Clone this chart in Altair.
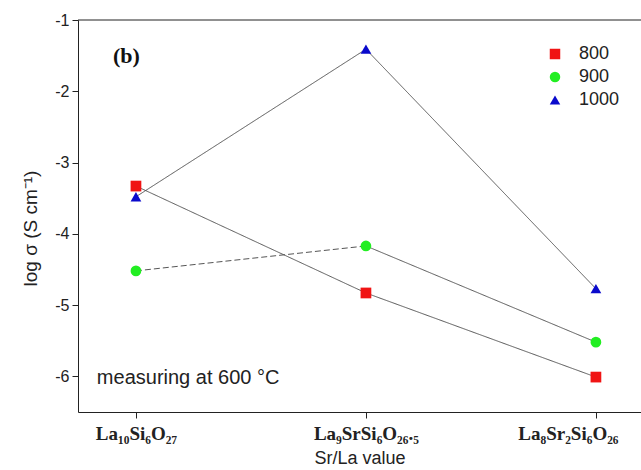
import json
import altair as alt
import pandas as pd

# ---- data ----
compounds = ["La₁₀Si₆O₂₇", "La₉SrSi₆O₂₆.₅", "La₈Sr₂Si₆O₂₆"]
positions = [0, 1, 2]
series_names = ["800", "900", "1000"]
v800 = [-3.33, -4.83, -6.01]
v900 = [-4.52, -4.17, -5.52]
v1000 = [-3.48, -1.41, -4.77]
panel_label = ["(b)"]
note_text = ["measuring at 600 °C"]

series_values = {"800": v800, "900": v900, "1000": v1000}
colors = ["#f01414", "#22ee22", "#0a0acc"]
shapes = ["square", "circle", "triangle-up"]

rows = []
for s in series_names:
    for p, v in zip(positions, series_values[s]):
        rows.append({"pos": p, "val": v, "series": s})
pts = pd.DataFrame(rows)

seg_rows = []
for s in series_names:
    vals = series_values[s]
    for i in range(len(positions) - 1):
        dashed = "dash" if (s == "900" and i == 0) else "solid"
        for j in (i, i + 1):
            seg_rows.append({"pos": positions[j], "val": vals[j],
                             "seg": f"{s}-{i}", "style": dashed})
segs = pd.DataFrame(seg_rows)

xdom = [-0.252, 2.196]
ydom = [-6.5, -1.0]
xscale = alt.Scale(domain=xdom, nice=False, zero=False)
yscale = alt.Scale(domain=ydom, nice=False, zero=False)

label_map = json.dumps(compounds, ensure_ascii=False)

x_axis = alt.Axis(
    values=positions,
    labelExpr=f"{label_map}[datum.value]",
    labelOffset={"condition": {"test": "datum.value == 2", "value": -28},
                 "value": 0},
    title="Sr/La value",
    titleFont="Liberation Sans", titleFontSize=18, titleFontWeight="normal",
    titleColor="#222", titleY=46, titleBaseline="middle",
    labelFont="Liberation Serif", labelFontSize=19, labelFontWeight="bold",
    labelColor="#222", labelPadding=6,
    tickSize=6, tickColor="#222", domainColor="#222", grid=False,
)
y_axis = alt.Axis(
    values=[-1, -1.5, -2, -2.5, -3, -3.5, -4, -4.5, -5, -5.5, -6],
    labelExpr="datum.value % 1 == 0 ? '-' + (-datum.value) : ''",
    title="log σ (S cm⁻¹)",
    titleFont="Liberation Sans", titleFontSize=19, titleFontWeight="normal",
    titleColor="#222", titleX=-48, titleY=208, titleAngle=270,
    titleAlign="center", titleBaseline="middle",
    labelFont="Liberation Sans", labelFontSize=16, labelColor="#222",
    labelPadding=3, tickSize=6, tickColor="#222", domainColor="#222",
    grid=False,
)

base_x = alt.X("pos:Q", scale=xscale, axis=x_axis)
base_y = alt.Y("val:Q", scale=yscale, axis=y_axis)

lines = alt.Chart(segs).mark_line(color="#555555", strokeWidth=1).encode(
    x=base_x, y=base_y, detail="seg:N",
    strokeDash=alt.StrokeDash("style:N",
                              scale=alt.Scale(domain=["solid", "dash"],
                                              range=[[1, 0], [6, 3]]),
                              legend=None),
)

leg = alt.Legend(title=None, orient="none", legendX=468, legendY=25,
                 labelFont="Liberation Sans", labelFontSize=18,
                 labelColor="#222", labelOffset=15, rowPadding=5,
                 symbolSize=110, padding=0)

points = alt.Chart(pts).mark_point(filled=True, size=115, opacity=1).encode(
    x=alt.X("pos:Q", scale=xscale),
    y=alt.Y("val:Q", scale=yscale),
    color=alt.Color("series:N",
                    scale=alt.Scale(domain=series_names, range=colors),
                    legend=leg),
    shape=alt.Shape("series:N",
                    scale=alt.Scale(domain=series_names, range=shapes),
                    legend=leg),
)

top_rule = alt.Chart(pd.DataFrame({"top": [ydom[1]]})).mark_rule(
    color="#222", strokeWidth=1).encode(y=alt.Y("top:Q", scale=yscale))

lab_df = pd.DataFrame({"pos": [-0.1], "val": [-1.50], "t": panel_label})
lab = alt.Chart(lab_df).mark_text(
    align="left", baseline="middle", font="Liberation Serif",
    fontSize=22, fontWeight="bold", color="#111").encode(
    x=alt.X("pos:Q", scale=xscale), y=alt.Y("val:Q", scale=yscale), text="t:N")

note_df = pd.DataFrame({"pos": [-0.17], "val": [-6.02], "t": note_text})
note = alt.Chart(note_df).mark_text(
    align="left", baseline="middle", font="Liberation Sans",
    fontSize=20, color="#222").encode(
    x=alt.X("pos:Q", scale=xscale), y=alt.Y("val:Q", scale=yscale), text="t:N")

chart = alt.layer(top_rule, lines, points, lab, note).properties(
    width=563, height=392,
    autosize=alt.AutoSizeParams(type="none"),
    padding={"left": 78, "top": 20, "right": 0, "bottom": 58},
    background="white",
).configure_view(stroke=None)

chart.save("out.html", embed_options={"renderer": "svg", "actions": False})
